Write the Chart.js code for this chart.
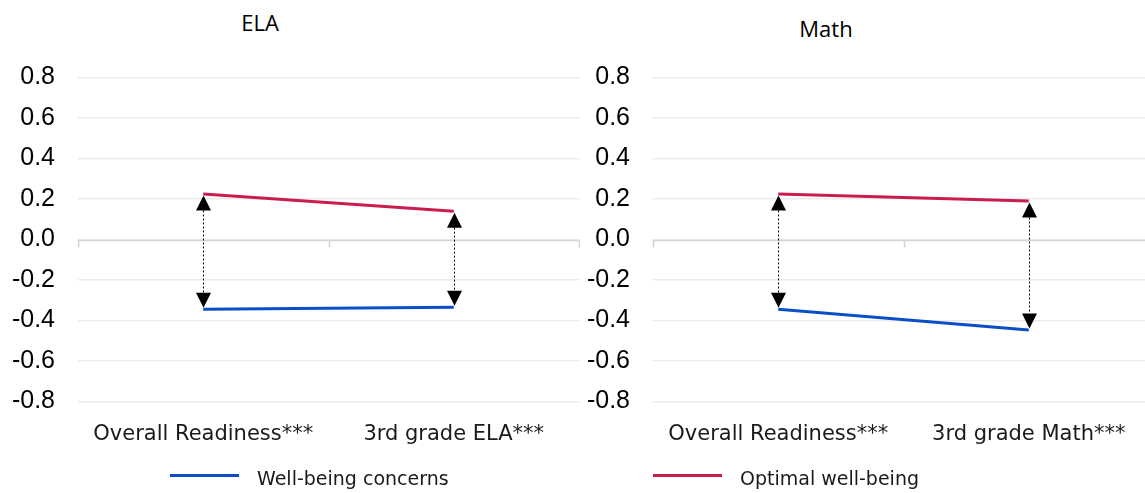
<!DOCTYPE html>
<html>
<head>
<meta charset="utf-8">
<title>Well-being and readiness</title>
<script src="https://cdn.jsdelivr.net/npm/chart.js@4.4.1/dist/chart.umd.min.js"></script>
<style>
  html, body { margin: 0; padding: 0; background: #ffffff; }
  body { position: relative; width: 1145px; height: 493px; overflow: hidden; }
  canvas { position: absolute; top: 0; }
  #elaCanvas { left: 0; }
  #mathCanvas { left: 575px; }
  .panel-title {
    position: absolute; font-family: "Open Sans", sans-serif; font-size: 22px;
    color: #000; transform: translate(-50%, -50%); white-space: nowrap;
  }
  .legend-item { position: absolute; top: 466px; height: 24px; }
  .legend-item .swatch { position: absolute; top: 8px; left: 0; width: 69px; height: 3px; }
  .legend-item .label {
    position: absolute; left: 87px; top: 1px; font-family: "DejaVu Sans", sans-serif;
    font-size: 19px; color: #1a1a1a; white-space: nowrap;
  }
</style>
</head>
<body>
<div class="panel-title" id="elaTitle" style="left:260px; top:22px;"></div>
<div class="panel-title" id="mathTitle" style="left:826px; top:28px;"></div>
<canvas id="elaCanvas" width="580" height="493"></canvas>
<canvas id="mathCanvas" width="580" height="493"></canvas>
<div class="legend-item" id="legendConcerns" style="left:170px;"><span class="swatch"></span><span class="label"></span></div>
<div class="legend-item" id="legendOptimal" style="left:653px;"><span class="swatch"></span><span class="label"></span></div>
<script>
// Panel titles
const panelTitles = ['ELA', 'Math'];

// Categories for each panel
const elaCategories = ['Overall Readiness***', '3rd grade ELA***'];
const mathCategories = ['Overall Readiness***', '3rd grade Math***'];

// Series names
const seriesNames = ['Well-being concerns', 'Optimal well-being'];

// Standardized scores
const elaConcerns = [-0.345, -0.335];
const elaOptimal = [0.225, 0.14];
const mathConcerns = [-0.345, -0.447];
const mathOptimal = [0.225, 0.19];

// Value axis range
const yMin = -0.8;
const yMax = 0.8;
const yStep = 0.2;

const BLUE = '#0b4fc7';
const RED = '#c81d4e';

// Zero axis line with category tick marks hanging below it
const zeroAxisPlugin = {
  id: 'zeroAxis',
  beforeDatasetsDraw(chart) {
    const { ctx, chartArea, scales } = chart;
    const x = scales.x, y = scales.y;
    const y0 = Math.round(y.getPixelForValue(0)) + 0.5;
    ctx.save();
    ctx.strokeStyle = '#d4d4d4';
    ctx.lineWidth = 1.5;
    ctx.beginPath();
    ctx.moveTo(chartArea.left, y0);
    ctx.lineTo(chartArea.right, y0);
    const n = x.getLabels().length;
    for (let i = 0; i <= n; i++) {
      const px = Math.round(x.getPixelForValue(i - 0.5)) + 0.5;
      ctx.moveTo(px, y0);
      ctx.lineTo(px, y0 + 7);
    }
    ctx.stroke();
    ctx.restore();
  }
};

// Dotted double-headed arrows spanning the gap between the two series
const gapArrowPlugin = {
  id: 'gapArrows',
  afterDatasetsDraw(chart) {
    const { ctx, scales } = chart;
    const low = chart.data.datasets[0].data;
    const high = chart.data.datasets[1].data;
    const head = 15, half = 7.5;
    ctx.save();
    ctx.fillStyle = '#000';
    ctx.strokeStyle = '#000';
    ctx.lineWidth = 1;
    for (let i = 0; i < low.length; i++) {
      const px = Math.round(scales.x.getPixelForValue(i)) + 0.5;
      const yTop = scales.y.getPixelForValue(high[i]) + 1.5;
      const yBot = scales.y.getPixelForValue(low[i]) - 1.5;
      ctx.setLineDash([2, 2]);
      ctx.beginPath();
      ctx.moveTo(px, yTop + head);
      ctx.lineTo(px, yBot - head);
      ctx.stroke();
      ctx.setLineDash([]);
      ctx.beginPath();
      ctx.moveTo(px, yTop);
      ctx.lineTo(px - half, yTop + head);
      ctx.lineTo(px + half, yTop + head);
      ctx.closePath();
      ctx.fill();
      ctx.beginPath();
      ctx.moveTo(px, yBot);
      ctx.lineTo(px - half, yBot - head);
      ctx.lineTo(px + half, yBot - head);
      ctx.closePath();
      ctx.fill();
    }
    ctx.restore();
  }
};

function makePanel(canvasId, categories, concerns, optimal) {
  return new Chart(document.getElementById(canvasId), {
    type: 'line',
    data: {
      labels: categories,
      datasets: [
        { label: seriesNames[0], data: concerns, borderColor: BLUE, backgroundColor: BLUE,
          borderWidth: 3, pointRadius: 0, tension: 0 },
        { label: seriesNames[1], data: optimal, borderColor: RED, backgroundColor: RED,
          borderWidth: 3, pointRadius: 0, tension: 0 }
      ]
    },
    options: {
      responsive: false,
      animation: false,
      layout: { padding: { top: 77.5, right: 1, bottom: 41.5, left: 0 } },
      plugins: { legend: { display: false }, title: { display: false }, tooltip: { enabled: false } },
      scales: {
        x: {
          offset: true,
          grid: { display: false },
          border: { display: false },
          ticks: { color: '#1a1a1a', font: { family: '"DejaVu Sans", sans-serif', size: 21 }, padding: 12,
                   maxRotation: 0, autoSkip: false },
          afterFit(scale) { scale.height = 50; }
        },
        y: {
          min: yMin, max: yMax,
          grid: { color: '#ebebeb', lineWidth: 1.5, drawTicks: false },
          border: { display: false },
          ticks: { stepSize: yStep, color: '#000', padding: 23,
                   font: { family: '"Liberation Sans", Arial, sans-serif', size: 25 },
                   callback: v => Number(v).toFixed(1) },
          afterFit(scale) { scale.width = 78; }
        }
      }
    },
    plugins: [zeroAxisPlugin, gapArrowPlugin]
  });
}

makePanel('elaCanvas', elaCategories, elaConcerns, elaOptimal);
makePanel('mathCanvas', mathCategories, mathConcerns, mathOptimal);

document.getElementById('elaTitle').textContent = panelTitles[0];
document.getElementById('mathTitle').textContent = panelTitles[1];

const legendEntries = [
  ['legendConcerns', seriesNames[0], BLUE],
  ['legendOptimal', seriesNames[1], RED]
];
legendEntries.forEach(([id, name, color]) => {
  const el = document.getElementById(id);
  el.querySelector('.swatch').style.background = color;
  el.querySelector('.label').textContent = name;
});
</script>
</body>
</html>
